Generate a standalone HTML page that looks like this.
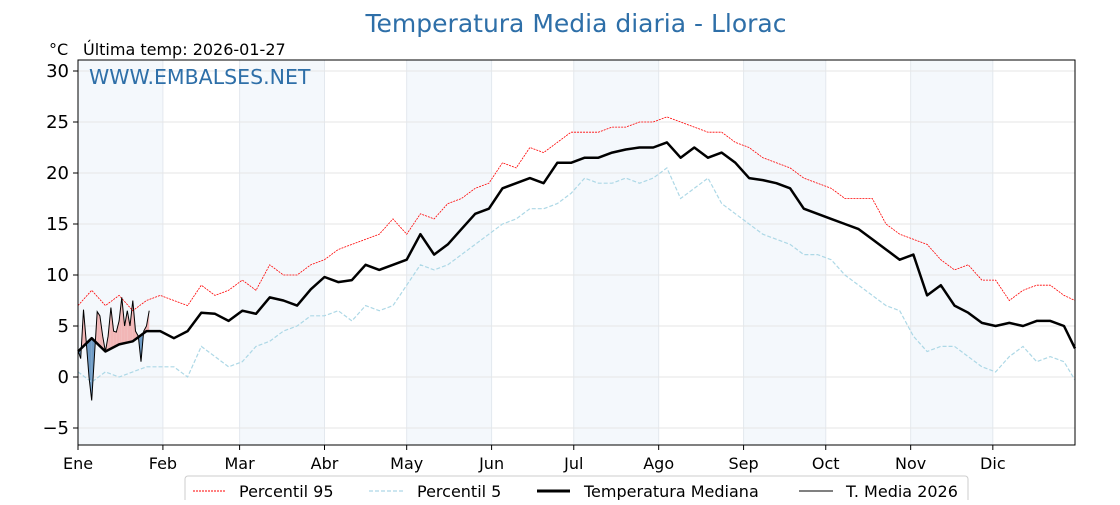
<!DOCTYPE html>
<html><head><meta charset="utf-8"><style>
body{margin:0;background:#fff;}
svg text{font-family:"DejaVu Sans","Liberation Sans",sans-serif;}
</style></head><body>
<svg id="chart" width="1120" height="500" viewBox="0 0 1120 500" xmlns="http://www.w3.org/2000/svg">
<text x="576" y="32" font-size="25" fill="#2e6fa8" text-anchor="middle">Temperatura Media diaria - Llorac</text>
<text x="49" y="55" font-size="16" fill="#000">°C</text>
<text x="83" y="55" font-size="16" fill="#000">Última temp: 2026-01-27</text>
<g id="bands"></g>
<g id="grid"></g>
<g id="fills"></g>
<g id="lines"></g>
<rect x="78" y="60" width="997" height="385" fill="none" stroke="#000" stroke-width="1"/>
<text x="89" y="84" font-size="20.5" fill="#2e6fa8">WWW.EMBALSES.NET</text>
<g id="axes"></g>
<g>
<rect x="185" y="476" width="783" height="30" rx="3" fill="#fff" stroke="#ccc"/>
<line x1="193" y1="491" x2="225" y2="491" stroke="red" stroke-width="1" stroke-dasharray="2,1"/>
<text x="239" y="497" font-size="16">Percentil 95</text>
<line x1="369" y1="491" x2="403" y2="491" stroke="#add8e6" stroke-width="1.2" stroke-dasharray="4,2"/>
<text x="417" y="497" font-size="16">Percentil 5</text>
<line x1="537" y1="491" x2="570" y2="491" stroke="#000" stroke-width="3"/>
<text x="584" y="497" font-size="16">Temperatura Mediana</text>
<line x1="799" y1="491" x2="833" y2="491" stroke="#000" stroke-width="1"/>
<text x="846" y="497" font-size="16">T. Media 2026</text>
</g>
</svg>
<script>
const sampleDays=[0,5,10,15,20,25,30,35,40,45,50,55,60,65,70,75,80,85,90,95,100,105,110,115,120,125,130,135,140,145,150,155,160,165,170,175,180,185,190,195,200,205,210,215,220,225,230,235,240,245,250,255,260,265,270,275,280,285,290,295,300,305,310,315,320,325,330,335,340,345,350,355,360,364];
const medianVals=[2.5,3.8,2.5,3.2,3.5,4.5,4.5,3.8,4.5,6.3,6.2,5.5,6.5,6.2,7.8,7.5,7.0,8.6,9.8,9.3,9.5,11.0,10.5,11.0,11.5,14.0,12.0,13.0,14.5,16.0,16.5,18.5,19.0,19.5,19.0,21.0,21.0,21.5,21.5,22.0,22.3,22.5,22.5,23.0,21.5,22.5,21.5,22.0,21.0,19.5,19.3,19.0,18.5,16.5,16.0,15.5,15.0,14.5,13.5,12.5,11.5,12.0,8.0,9.0,7.0,6.3,5.3,5.0,5.3,5.0,5.5,5.5,5.0,2.8];
const p95Vals=[7.0,8.5,7.0,8.0,6.5,7.5,8.0,7.5,7.0,9.0,8.0,8.5,9.5,8.5,11.0,10.0,10.0,11.0,11.5,12.5,13.0,13.5,14.0,15.5,14.0,16.0,15.5,17.0,17.5,18.5,19.0,21.0,20.5,22.5,22.0,23.0,24.0,24.0,24.0,24.5,24.5,25.0,25.0,25.5,25.0,24.5,24.0,24.0,23.0,22.5,21.5,21.0,20.5,19.5,19.0,18.5,17.5,17.5,17.5,15.0,14.0,13.5,13.0,11.5,10.5,11.0,9.5,9.5,7.5,8.5,9.0,9.0,8.0,7.5];
const p5Vals=[0.5,-0.5,0.5,0.0,0.5,1.0,1.0,1.0,0.0,3.0,2.0,1.0,1.5,3.0,3.5,4.5,5.0,6.0,6.0,6.5,5.5,7.0,6.5,7.0,9.0,11.0,10.5,11.0,12.0,13.0,14.0,15.0,15.5,16.5,16.5,17.0,18.0,19.5,19.0,19.0,19.5,19.0,19.5,20.5,17.5,18.5,19.5,17.0,16.0,15.0,14.0,13.5,13.0,12.0,12.0,11.5,10.0,9.0,8.0,7.0,6.5,4.0,2.5,3.0,3.0,2.0,1.0,0.5,2.0,3.0,1.5,2.0,1.5,-0.3];
const t2026=[2.6,1.8,6.6,3.5,0.0,-2.3,2.0,6.4,6.0,4.0,2.5,4.0,6.8,4.5,4.4,5.5,7.8,5.0,6.5,5.0,7.5,4.5,4.0,1.5,4.5,5.0,6.5];
const monthLabels=["Ene","Feb","Mar","Abr","May","Jun","Jul","Ago","Sep","Oct","Nov","Dic"];
const monthStarts=[0,31,59,90,120,151,181,212,243,273,304,334];
const yTicks=[-5,0,5,10,15,20,25,30];
const NS="http://www.w3.org/2000/svg";
const X0=78,X1=1075,Y0=445,Y1=60;
const xS=d=>X0+d*(X1-X0)/364;
const yS=v=>377-v*10.2;
function mk(tag,attrs,parent){const e=document.createElementNS(NS,tag);for(const k in attrs)e.setAttribute(k,attrs[k]);parent.appendChild(e);return e;}
const bands=document.getElementById('bands'),grid=document.getElementById('grid'),axes=document.getElementById('axes'),lines=document.getElementById('lines'),fills=document.getElementById('fills');
monthStarts.forEach((m,i)=>{
 const end=i<11?monthStarts[i+1]:364;
 if(i%2===0){const r=mk('rect',{x:xS(m),y:Y1,width:xS(end)-xS(m),height:Y0-Y1,fill:'#f4f8fc'},bands);
 
 }
 const g=mk('line',{x1:xS(m),x2:xS(m),y1:Y1,y2:Y0,stroke:'#e3e8ee','stroke-width':1},grid);
 
 
 const t=mk('line',{x1:xS(m),x2:xS(m),y1:Y0,y2:Y0+5,stroke:'#000'},axes);
 
 
 const l=mk('text',{x:xS(m),y:469,'font-size':16,'text-anchor':'middle'},axes);l.textContent=monthLabels[i];
 
 
});
yTicks.forEach(v=>{
 const g=mk('line',{x1:X0,x2:X1,y1:yS(v),y2:yS(v),stroke:'#e6e6e6','stroke-width':1},grid);
 
 
 const t=mk('line',{x1:X0-5,x2:X0,y1:yS(v),y2:yS(v),stroke:'#000'},axes);
 
 
 const l=mk('text',{x:X0-9,y:yS(v)+6,'font-size':18,'text-anchor':'end'},axes);l.textContent=v<0?'\u2212'+(-v):v;
 
 
});
function pts(days,vals){return days.map((d,i)=>xS(d).toFixed(1)+','+yS(vals[i]).toFixed(1)).join(' ');}
function medAt(d){for(let i=0;i<sampleDays.length-1;i++){if(d>=sampleDays[i]&&d<=sampleDays[i+1]){const f=(d-sampleDays[i])/(sampleDays[i+1]-sampleDays[i]);return medianVals[i]+f*(medianVals[i+1]-medianVals[i]);}}return medianVals[medianVals.length-1];}
const days26=t2026.map((_,i)=>i);
for(let i=0;i<t2026.length-1;i++){
 const a0=t2026[i]-medAt(i),a1=t2026[i+1]-medAt(i+1);
 const segs=[];
 if(a0*a1<0){const f=a0/(a0-a1);const dm=i+f;segs.push([i,dm,a0>0]);segs.push([dm,i+1,a1>0]);}
 else segs.push([i,i+1,(a0+a1)>0]);
 segs.forEach(s=>{
  const d0=s[0],d1=s[1];
  const tv=d=>{const f=d-i;return t2026[i]+f*(t2026[i+1]-t2026[i]);};
  const p=[[xS(d0),yS(tv(d0))],[xS(d1),yS(tv(d1))],[xS(d1),yS(medAt(d1))],[xS(d0),yS(medAt(d0))]];
  const poly=mk('polygon',{points:p.map(q=>q.join(',')).join(' '),fill:s[2]?'#f2b6b6':'#6e9bc5',stroke:'none'},fills);
  
  
 });
}
const lp95=mk('polyline',{points:pts(sampleDays,p95Vals),fill:'none',stroke:'red','stroke-width':0.8,'stroke-dasharray':'2,1'},lines);


const lp5=mk('polyline',{points:pts(sampleDays,p5Vals),fill:'none',stroke:'#add8e6','stroke-width':1.2,'stroke-dasharray':'4,2'},lines);


const lmed=mk('polyline',{points:pts(sampleDays,medianVals),fill:'none',stroke:'#000','stroke-width':2.5,'stroke-linejoin':'round'},lines);


const l26=mk('polyline',{points:pts(days26,t2026),fill:'none',stroke:'#000','stroke-width':1},lines);


</script>
</body></html>
